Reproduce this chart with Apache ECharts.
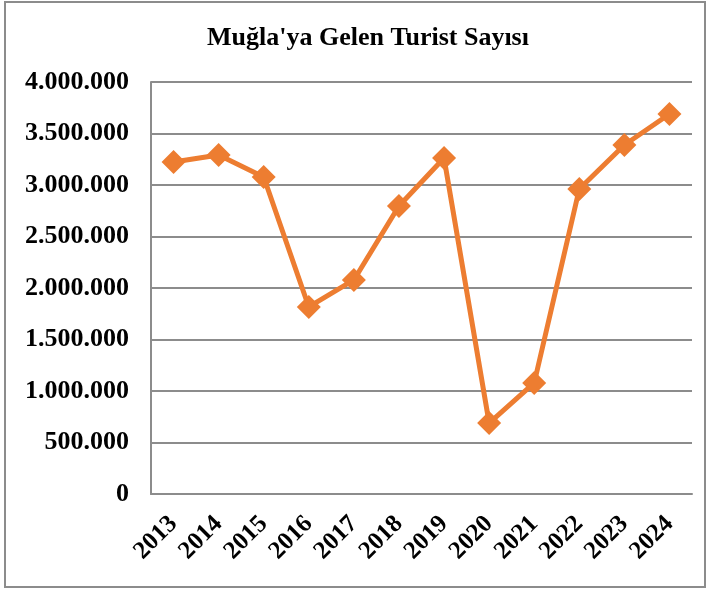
<!DOCTYPE html>
<html><head><meta charset="utf-8">
<script src="https://cdn.jsdelivr.net/npm/echarts@6/dist/echarts.min.js"></script>
<style>html,body{margin:0;padding:0;background:#fff}#c{width:710px;height:590px}</style>
</head><body><div id="c"></div>
<script>
const categories = ['2013','2014','2015','2016','2017','2018','2019','2020','2021','2022','2023','2024'];
const tourists = [3223000, 3291000, 3078000, 1816000, 2078000, 2796000, 3262000, 689000, 1078000, 2961000, 3388000, 3689000];
const titleText = "Muğla'ya Gelen Turist Sayısı";
const fmt = v => String(v).replace(/\B(?=(\d{3})+(?!\d))/g, '.');
const chart = echarts.init(document.getElementById('c'), null, {renderer:'canvas'});
chart.setOption({
  animation:false,
  backgroundColor:'#fff',
  graphic:[{type:'rect',shape:{x:5,y:2,width:700,height:585},style:{fill:'none',stroke:'#8c8c8c',lineWidth:2},silent:true}],
  title:{text:titleText,left:363,top:20,textAlign:'center',textStyle:{fontFamily:'Liberation Serif',fontWeight:'bold',fontSize:26,color:'#000'}},
  grid:{left:151,right:18,top:82,bottom:96,containLabel:false},
  xAxis:{type:'category',data:categories,boundaryGap:true,
    axisLine:{show:true,lineStyle:{color:'#8c8c8c',width:2}},axisTick:{show:false},
    axisLabel:{rotate:45,interval:0,margin:26,fontFamily:'Liberation Serif',fontWeight:'bold',fontSize:25,color:'#000'}},
  yAxis:{type:'value',min:0,max:4000000,interval:500000,
    axisLine:{show:true,lineStyle:{color:'#8c8c8c',width:2}},axisTick:{show:false},
    splitLine:{lineStyle:{color:'#8c8c8c',width:2}},
    axisLabel:{margin:22,formatter:fmt,fontFamily:'Liberation Serif',fontWeight:'bold',fontSize:26,color:'#000'}},
  series:[{type:'line',data:tourists,symbol:'diamond',symbolSize:24,
    lineStyle:{color:'#ED7D31',width:5},itemStyle:{color:'#ED7D31'}}]
});
</script></body></html>
